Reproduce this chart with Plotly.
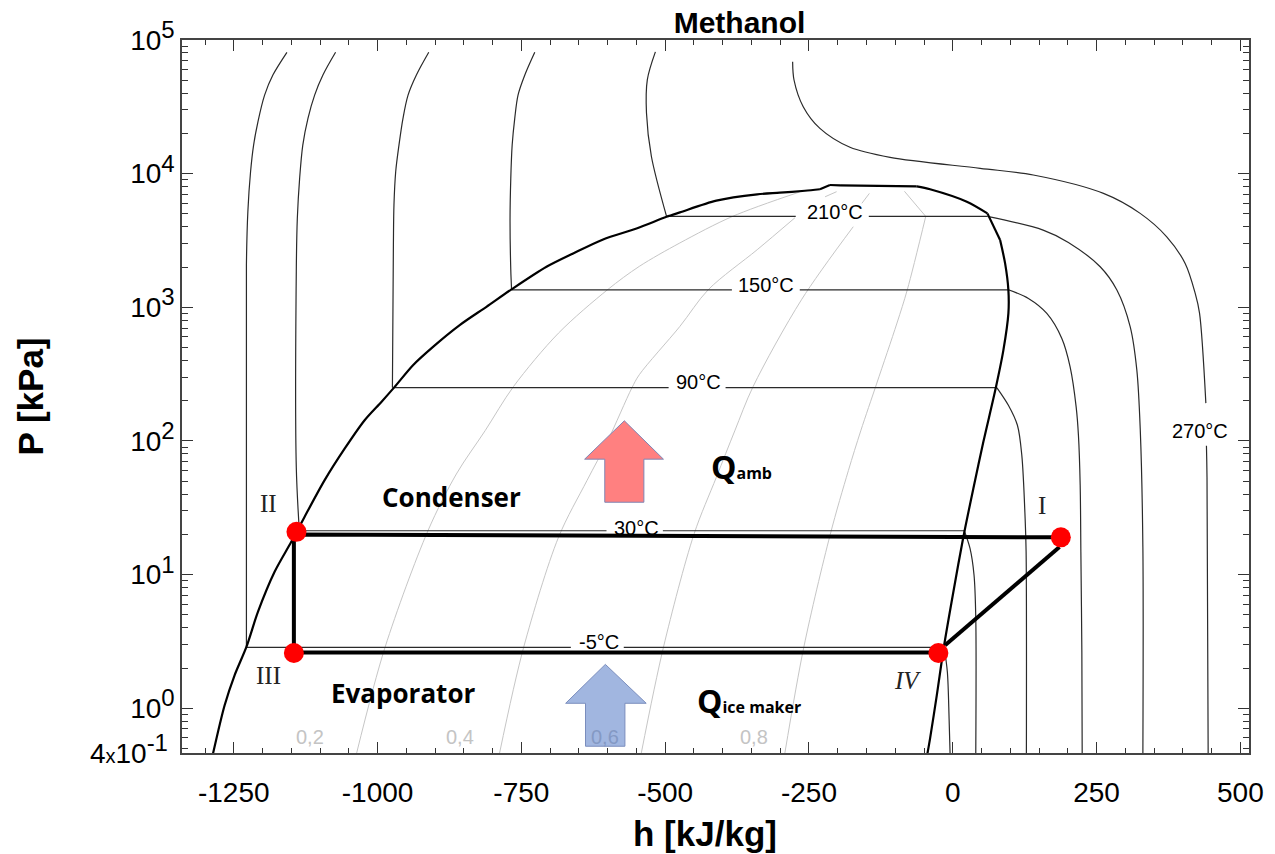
import plotly.graph_objects as go

# Saturation dome (None marks breaks between smooth pieces)
sat_h = [-1286, -1266, -1248.6, -1228, -1208, -1179, -1150, -1127, -1092, -1057, -1022.5, -993.4, -970.3, -938.4, -903.6, -857.2, -810.7, -767.2,
         -706.3, -660, -607.9, -549.8, -497.6, -474.4, -411, -340, -300.5, -257, -231,
         None, -231, -213.5, None, -213.5, -196, None, -196, -62.6,
         None, -62.6, -39.5, 24.4, 60.2,
         None, 60.2, 82.3,
         None, 82.3, 91, 96.7, 96.7, 88, 74.8, 53.2, 35.8, 18.4, 1, -15, -27.8, -39.5, -44]
sat_P = [0.46, 1.05, 1.766, 2.88, 5.26, 10.5, 17.6, 27, 50.9, 87.9, 143, 196, 254, 369, 506, 736, 1009, 1361,
         2010, 2529, 3220, 3890, 4755, 5130, 6281, 7000, 7200, 7450, 7640,
         None, 7640, 8225, None, 8225, 8170, None, 8170, 8035,
         None, 8035, 7640, 6165, 5045,
         None, 5045, 3184,
         None, 3184, 2130, 1346, 901, 478, 250, 98.5, 44.1, 19.1, 7.42, 2.96, 1.25, 0.593, 0.46]

# Isotherms
t_m5_h = [-1157.6, -1182, -1196.4, -1208, -1215.5, -1220.8, -1225.5, -1228, -1228, None, -1228, -664, None, -572, -15, None, -15, -9.4, -6.4, -4.7]
t_m5_P = [80900, 54700, 38700, 24450, 16370, 10330, 5190, 2070, 2.86, None, 2.86, 2.86, None, 2.86, 2.86, None, 2.86, 1.87, 0.84, 0.46]
t_30_h = [-1073, -1095, -1109.4, -1121, -1130, -1135.5, -1139.5, -1141.3, -1141.3, -1136, None, -1136, -602, None, -504, 20, None, 20, 30, 37, 40, 40]
t_30_P = [80900, 54700, 38700, 25940, 16370, 9220, 4630, 1845, 63.5, 21.3, None, 21.3, 21.3, None, 21.3, 21.3, None, 21.3, 15.7, 9.9, 4.72, 0.46]
t_90_h = [-911, -932.5, -947, -955.8, -962.8, -968.5, -971.5, -972.5, -974.2, None, -974.2, -494, None, -395, 76.5, None, 76.5, 96.7, 112.4, 120, 125.8, 127.5, 128]
t_90_P = [80900, 54700, 38700, 25940, 16370, 10330, 5820, 2920, 251, None, 251, 251, None, 251, 251, None, 251, 185, 131, 78.3, 26.3, 14.8, 0.46]
t_150_h = [-726.7, -744, -755.8, -761.5, -766, -768.4, -769.7, -768.4, -767, None, -767, -384, None, -266, 96.7, None, 96.7, 131.5, 163.5, 189.6, 204, 214.5, 218.5, 221.5, 222.7, 224.4, 225]
t_150_P = [80900, 54700, 38700, 25940, 16370, 9220, 4500, 1900, 1352, None, 1352, 1352, None, 1352, 1352, None, 1352, 1165, 900, 585, 359, 180, 110, 46.7, 14.8, 2.64, 0.46]
t_210_h = [-517, -531, -532.5, -524, -497.6, None, -497.6, -273, None, -146, 60.2, None, 60.2, 157.1, 201, 256.3, 285.3, 308.5, 320, 326, 330.5, 330.5]
t_210_P = [81500, 50600, 28400, 13500, 4786, None, 4786, 4786, None, 4786, 4786, None, 4786, 3784, 3060, 2010, 1346, 714, 339, 120, 16, 0.46]
t_270_h = [-278.4, -276, -260, -231, -178.7, -109, 47.5, 140, 262, 325.8, 372, 404, 421.5, 429, 440, None, 441, 442, 444]
t_270_P = [68800, 50200, 31700, 21800, 15740, 13240, 10960, 9770, 7115, 5045, 3370, 2130, 1271, 906, 192, None, 92, 53.5, 0.46]
isotherms = [(t_m5_h, t_m5_P), (t_30_h, t_30_P), (t_90_h, t_90_P), (t_150_h, t_150_P), (t_210_h, t_210_P), (t_270_h, t_270_P)]

# Constant-quality lines
x02_h = [-1036.5, -987, -912.4, -863, -813, -763.5, -685.5, -600, -545, -474.5, -383, -266]
x02_P = [0.46, 2.86, 21.3, 56.6, 119.4, 256, 641, 1356, 2024, 3030, 4786, 7300]
x04_h = [-788, -746, -685.5, -636, -600, -558, -545, -474.5, -425, -340, -274.4, None, -222, -202]
x04_P = [0.46, 2.86, 19, 50.5, 100, 249, 313, 719, 1356, 2698, 4677, None, 6714, 7330]
x06_h = [-541.6, -503, -450, -411, -379, -347, -263, -173, None, -158, -145]
x06_P = [0.46, 2.86, 20, 53.5, 119, 256, 1140, 4010, None, 6000, 7115]
x08_h = [-292, -259, -213, -181.5, -160, -132, -97, -79, -47, None, -47, -84]
x08_P = [0.46, 2.86, 20, 60, 119, 271, 762, 1356, 4786, None, 4786, 7380]
qualities = [(x02_h, x02_P), (x04_h, x04_P), (x06_h, x06_P), (x08_h, x08_P)]

# Cycle
cycle_h = [187.9, -1141, -1145.5, -1145.5, -25, None, -13.4, 185.5]
cycle_P = [19, 20, 20, 2.61, 2.61, None, 2.96, 16.1]
state_h = [187.9, -1141, -1145.5, -25]
state_P = [19, 20.9, 2.59, 2.59]

# Heat arrows
red_h = [-571, -503, -537, -537, -605, -605, -640, -571]
red_P = [141.6, 73.1, 73.1, 34.8, 34.8, 73.1, 73.1, 141.6]
blue_h = [-604, -533, -570, -570, -638.5, -638.5, -673, -604]
blue_P = [2.13, 1.09, 1.09, 0.52, 0.52, 1.09, 1.09, 2.13]

# Texts: (text, h, log10 P)
temp_labels = [("210°C", -205, 3.713), ("150°C", -324, 3.166), ("90°C", -442, 2.44),
               ("30°C", -549, 1.347), ("-5°C", -615, 0.494), ("270°C", 429, 2.073)]
quality_labels = [("0,2", -1118, -0.217, "#c4c4c4"), ("0,4", -857, -0.217, "#c4c4c4"),
                  ("0,6", -605, -0.217, "#8499c4"), ("0,8", -345, -0.217, "#c4c4c4")]
roman_labels = [("II", -1189.5, 1.534), ("III", -1190, 0.247), ("I", 155, 1.519), ("<i>IV</i>", -79.5, 0.21)]
bold_labels = [("Condenser", -871, 1.579), ("Evaporator", -954.6, 0.112)]
Q_labels = [("amb", -367, 1.811), ("ice maker", -355, 0.06)]

x_major = [-1250, -1000, -750, -500, -250, 0, 250, 500]
y_bottom = 0.463
y_major = [y_bottom, 1, 10, 100, 1000, 10000, 100000]
sup = "<sup><span style='font-size:24px'>%s</span></sup>"
y_text = ["4<span style='font-size:20px'>x</span>10" + sup % "-1&nbsp;"] + ["10" + sup % e for e in "012345"]
y_minor = [m * 10 ** e for e in range(-1, 5) for m in range(2, 10) if m * 10 ** e > y_bottom]

SANS = "Liberation Sans"
fig = go.Figure()
for h, P in qualities:
    fig.add_trace(go.Scatter(x=h, y=P, mode="lines", line=dict(color="#c6c6c6", width=1, shape="spline", smoothing=0.9)))
for h, P in isotherms:
    fig.add_trace(go.Scatter(x=h, y=P, mode="lines", line=dict(color="#2a2a2a", width=1.2, shape="spline", smoothing=0.9)))
fig.add_trace(go.Scatter(x=sat_h, y=sat_P, mode="lines", line=dict(color="black", width=2.2, shape="spline", smoothing=0.8)))
fig.add_trace(go.Scatter(x=red_h, y=red_P, mode="lines", fill="toself", fillcolor="#ff8080", line=dict(color="#7f86b5", width=1)))
fig.add_trace(go.Scatter(x=blue_h, y=blue_P, mode="lines", fill="toself", fillcolor="#a1b6e0", line=dict(color="#7a8dbd", width=1)))
fig.add_trace(go.Scatter(x=cycle_h, y=cycle_P, mode="lines", line=dict(color="black", width=4)))
fig.add_trace(go.Scatter(x=state_h, y=state_P, mode="markers", marker=dict(color="#ff0000", size=20, line=dict(width=0))))

anns = []
for t, h, lp in temp_labels:
    anns.append(dict(x=h, y=lp, text=t, font=dict(family=SANS, size=20, color="black")))
for t, h, lp, c in quality_labels:
    anns.append(dict(x=h, y=lp, text=t, font=dict(family=SANS, size=20, color=c)))
for t, h, lp in roman_labels:
    anns.append(dict(x=h, y=lp, text=t, font=dict(family="Liberation Serif", size=25, color="#222222")))
for t, h, lp in bold_labels:
    anns.append(dict(x=h, y=lp, text=f"<b>{t}</b>", font=dict(family="Open Sans", size=26, color="black")))
for t, h, lp in Q_labels:
    anns.append(dict(x=h, y=lp, text=f"<b><span style='font-size:32px'>Q</span>{t}</b>", font=dict(family="Open Sans", size=16, color="black")))
for a in anns:
    a.update(xref="x", yref="y", showarrow=False, xanchor="center", yanchor="middle")
anns.append(dict(xref="paper", yref="paper", x=0.49, y=-0.1127, text="<b>h [kJ/kg]</b>", showarrow=False,
                 xanchor="center", yanchor="middle", font=dict(family=SANS, size=35, color="black")))

fig.update_layout(
    width=1275, height=854, autosize=False, showlegend=False,
    margin=dict(l=182.4, r=26.3, t=40, b=101.3),
    paper_bgcolor="white", plot_bgcolor="white",
    title=dict(text="<b>Methanol</b>", font=dict(family=SANS, size=30, color="black"),
               x=0.5225, xref="paper", y=0.974, yref="container", xanchor="center", yanchor="middle"),
    annotations=anns,
    xaxis=dict(range=[-1340, 515], tickvals=x_major, ticktext=[str(v) for v in x_major],
               ticks="inside", ticklen=11, tickwidth=1, tickcolor="#333333", mirror="ticks",
               showline=True, linecolor="#444444", linewidth=1.5, showgrid=False, zeroline=False,
               minor=dict(dtick=50, ticks="inside", ticklen=5, tickwidth=1, tickcolor="#333333", showgrid=False),
               tickfont=dict(family=SANS, size=28, color="black"), ticklabelstandoff=14),
    yaxis=dict(type="log", range=[-0.3346, 5], tickvals=y_major, ticktext=y_text,
               ticks="inside", ticklen=11, tickwidth=1, tickcolor="#333333", mirror="ticks",
               showline=True, linecolor="#444444", linewidth=1.5, showgrid=False, zeroline=False,
               minor=dict(tickvals=y_minor, ticks="inside", ticklen=6, tickwidth=1, tickcolor="#333333", showgrid=False),
               tickfont=dict(family=SANS, size=28, color="black"), ticklabelstandoff=0,
               title=dict(text="<b>P [kPa]</b>", font=dict(family=SANS, size=35, color="black"), standoff=36)),
)
fig.write_html("out.html", config=dict(displayModeBar=False), post_script="document.body.style.margin='0';")
